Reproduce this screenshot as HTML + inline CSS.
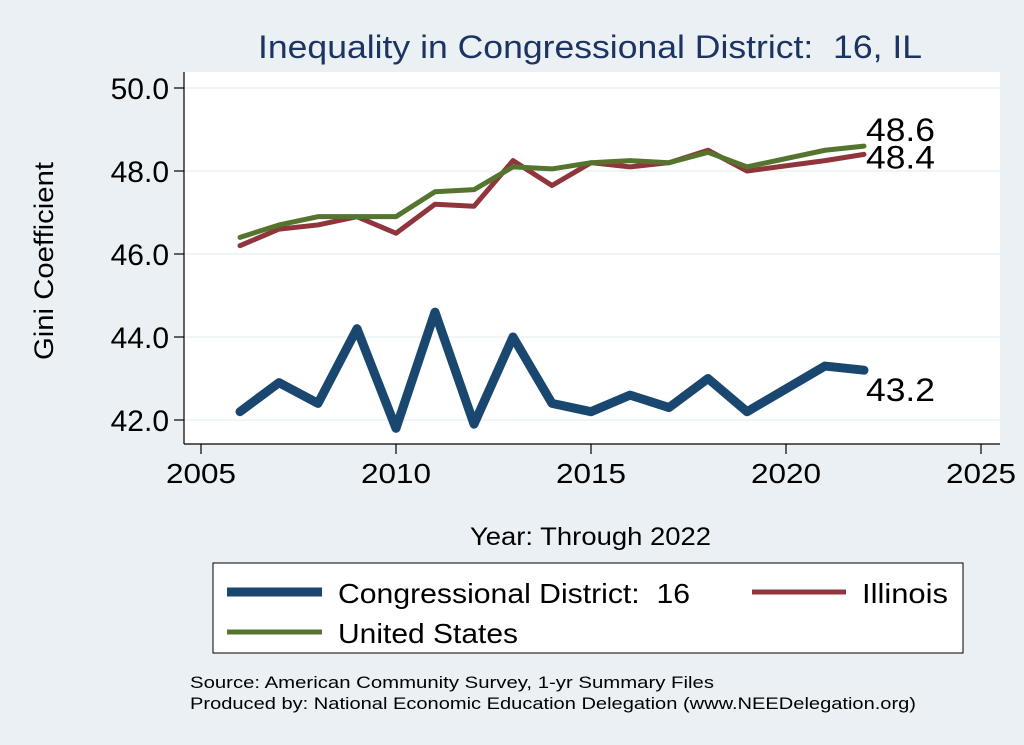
<!DOCTYPE html>
<html><head><meta charset="utf-8"><style>
body{margin:0;background:#eaf0f4;}
svg{display:block;font-family:"Liberation Sans",sans-serif;}
</style></head><body>
<svg width="1024" height="745" viewBox="0 0 1024 745">
<rect x="0" y="0" width="1024" height="745" fill="#eaf0f4"/>
<rect x="184" y="72" width="816" height="372" fill="#ffffff"/>
<text x="258" y="58" font-size="32" fill="#1c3461" textLength="664" lengthAdjust="spacingAndGlyphs">Inequality in Congressional District:&#160; 16, IL</text>
<text transform="translate(53,261) rotate(-90)" font-size="27" text-anchor="middle" fill="#000" textLength="198" lengthAdjust="spacingAndGlyphs">Gini Coefficient</text>
<text x="470" y="545" font-size="25" fill="#000" textLength="241" lengthAdjust="spacingAndGlyphs">Year: Through 2022</text>
<g id="grid"></g><g id="axes"></g><g id="series"></g>
<rect x="213" y="563" width="750" height="90" fill="#fff" stroke="#000" stroke-width="1"/>
<g><line x1="227" y1="592" x2="322" y2="592" stroke="#1a476f" stroke-width="9"/><text x="338" y="603" font-size="28" textLength="352" lengthAdjust="spacingAndGlyphs">Congressional District:&#160; 16</text></g>
<g><line x1="752" y1="592" x2="846" y2="592" stroke="#90353b" stroke-width="5"/><text x="862" y="603" font-size="28" textLength="86" lengthAdjust="spacingAndGlyphs">Illinois</text></g>
<g><line x1="227" y1="632" x2="322" y2="632" stroke="#55752f" stroke-width="5"/><text x="338" y="643" font-size="28" textLength="180" lengthAdjust="spacingAndGlyphs">United States</text></g>
<text x="190" y="688" font-size="17" textLength="524" lengthAdjust="spacingAndGlyphs">Source: American Community Survey, 1-yr Summary Files</text>
<text x="190" y="709" font-size="17" textLength="726" lengthAdjust="spacingAndGlyphs">Produced by: National Economic Education Delegation (www.NEEDelegation.org)</text>
</svg>
<script>
const years=[2006,2007,2008,2009,2010,2011,2012,2013,2014,2015,2016,2017,2018,2019,2021,2022];
const district=[42.2,42.9,42.4,44.2,41.8,44.6,41.9,44.0,42.4,42.2,42.6,42.3,43.0,42.2,43.3,43.2];
const illinois=[46.2,46.6,46.7,46.9,46.5,47.2,47.15,48.25,47.65,48.2,48.1,48.2,48.5,48.0,48.25,48.4];
const us=[46.4,46.7,46.9,46.9,46.9,47.5,47.55,48.1,48.05,48.2,48.25,48.2,48.45,48.1,48.5,48.6];
const yTicks=[42,44,46,48,50];
const xTicks=[2005,2010,2015,2020,2025];
const NS='http://www.w3.org/2000/svg';
const X=v=>201+(v-2005)*39.0;
const Y=v=>88+(50-v)*41.5;
function mk(t,a,p){const e=document.createElementNS(NS,t);for(const k in a)e.setAttribute(k,a[k]);p.appendChild(e);return e;}
const grid=document.getElementById('grid'),axes=document.getElementById('axes'),ser=document.getElementById('series');
mk('line',{x1:184,y1:72,x2:184,y2:444,stroke:'#000','stroke-width':1.2},axes);
mk('line',{x1:184,y1:444,x2:1000,y2:444,stroke:'#000','stroke-width':1.2},axes);
yTicks.forEach(t=>{
 const g=mk('line',{x1:184,y1:Y(t),x2:1000,y2:Y(t),stroke:'#eaf0f4','stroke-width':1.5},grid);
 
 mk('line',{x1:174,y1:Y(t),x2:184,y2:Y(t),stroke:'#000','stroke-width':1.2},axes);
 const tx=mk('text',{x:169,y:Y(t)+11,'font-size':30,'text-anchor':'end'},axes);tx.textContent=t.toFixed(1);
 
});
xTicks.forEach(t=>{
 mk('line',{x1:X(t),y1:444,x2:X(t),y2:454,stroke:'#000','stroke-width':1.2},axes);
 const tx=mk('text',{x:X(t),y:483,'font-size':28,'text-anchor':'middle',textLength:70,lengthAdjust:'spacingAndGlyphs'},axes);tx.textContent=t;
 
});
function line(vals,color,w,name){
 const p=mk('polyline',{points:vals.map((v,i)=>X(years[i])+','+Y(v)).join(' '),fill:'none',stroke:color,'stroke-width':w,'stroke-linejoin':'round','stroke-linecap':'round'},ser);
 
 const last=vals[vals.length-1];
 const t=mk('text',{x:X(years[years.length-1])+2,y:Y(last)+(name==='us-line'?-5:name==='illinois-line'?14:31),'font-size':32,textLength:69,lengthAdjust:'spacingAndGlyphs'},ser);
 t.textContent=last.toFixed(1);
 
}
line(district,'#1a476f',9,'district-line');
line(illinois,'#90353b',5,'illinois-line');
line(us,'#55752f',5,'us-line');
</script>
</body></html>
